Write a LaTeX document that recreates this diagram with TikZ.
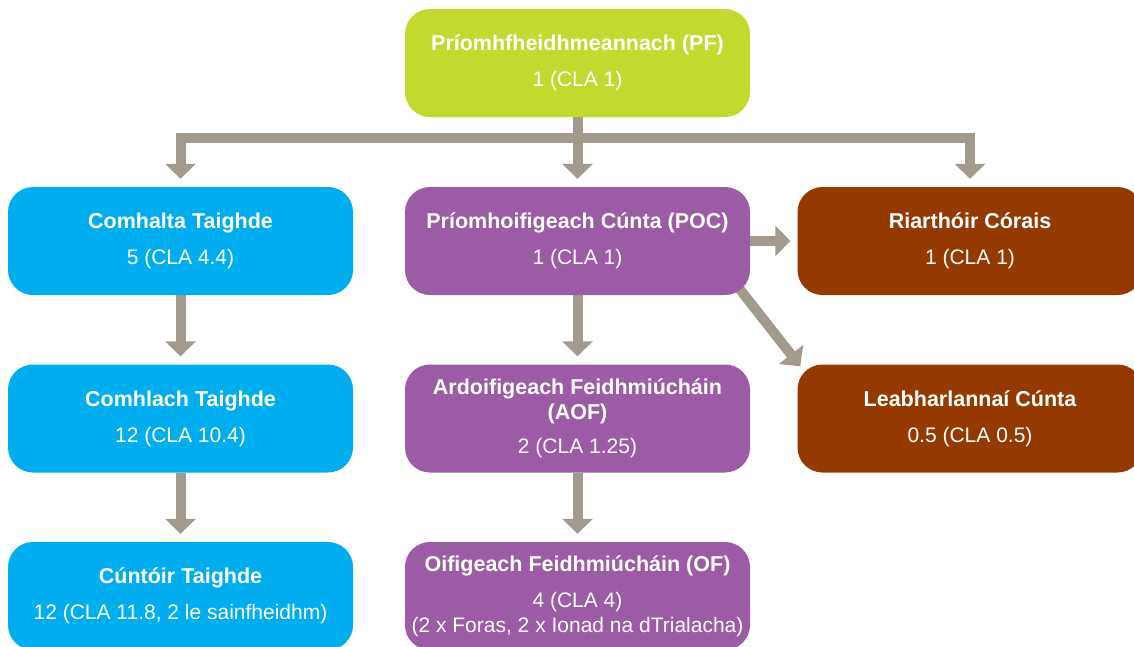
\documentclass[tikz,border=0pt]{standalone}
\usepackage{fontspec}
\setmainfont{Liberation Sans}
\usetikzlibrary{arrows.meta,backgrounds,calc}
\definecolor{pfgreen}{HTML}{C3D92F}
\definecolor{rblue}{HTML}{00AEEF}
\definecolor{mpurple}{HTML}{9B5BA5}
\definecolor{rbrown}{HTML}{943A00}
\definecolor{agrey}{HTML}{A39A8E}
\newcommand{\ttlb}[1]{{\fontsize{21.5}{25}\selectfont\bfseries #1}}
\begin{document}
\begin{tikzpicture}[x=1pt,y=-1pt,
  box/.style={rounded corners=25pt, minimum width=345pt, minimum height=108pt,
    inner sep=0pt, align=center, text=white, font=\fontsize{21}{25}\selectfont},
  conn/.style={draw=agrey, line width=10pt, line join=miter,
    -{Triangle[width=30pt,length=15pt]}},
]
\useasboundingbox (0,0) rectangle (1134,646);
\node[box, fill=pfgreen] (pf) at (577.5,63) {\ttlb{Príomhfheidhmeannach (PF)}\\[11pt]1 (CLA 1)};
\node[box, fill=rblue] (ct) at (180.5,241) {\ttlb{Comhalta Taighde}\\[11pt]5 (CLA 4.4)};
\node[box, fill=rblue] (cl) at (180.5,418.5) {\ttlb{Comhlach Taighde}\\[11pt]12 (CLA 10.4)};
\node[box, fill=rblue] (cta) at (180.5,596) {\ttlb{Cúntóir Taighde}\\[11pt]12 (CLA 11.8, 2 le sainfheidhm)};
\node[box, fill=mpurple] (poc) at (577.5,241) {\ttlb{Príomhoifigeach Cúnta (POC)}\\[11pt]1 (CLA 1)};
\node[box, fill=mpurple] (aof) at (577.5,418.5) {\ttlb{Ardoifigeach Feidhmiúcháin}\\[0pt]\ttlb{(AOF)}\\[9pt]2 (CLA 1.25)};
\node[box, fill=mpurple] (of) at (577.5,596) {\ttlb{Oifigeach Feidhmiúcháin (OF)}\\[11pt]4 (CLA 4)\\(2 x Foras, 2 x Ionad na dTrialacha)};
\node[box, fill=rbrown] (rc) at (970,241) {\ttlb{Riarthóir Córais}\\[11pt]1 (CLA 1)};
\node[box, fill=rbrown] (lc) at (970,418.5) {\ttlb{Leabharlannaí Cúnta}\\[11pt]0.5 (CLA 0.5)};
\begin{scope}[on background layer]
  \coordinate (bar) at (577.5,138);
  \coordinate (dstart) at ($(poc.south east)+(-12,-8)$);
  \coordinate (dend) at ($(lc.north west)+(3,2)$);
  \draw[conn, shorten >=8pt] (bar) -| (ct.north);
  \draw[conn, shorten >=8pt] (bar) -| (rc.north);
  \draw[conn, shorten >=8pt] (pf.south) -- (poc.north);
  \draw[conn, shorten >=8pt] (ct.south) -- (cl.north);
  \draw[conn, shorten >=8pt] (cl.south) -- (cta.north);
  \draw[conn, shorten >=8pt] (poc.south) -- (aof.north);
  \draw[conn, shorten >=8pt] (aof.south) -- (of.north);
  \draw[conn, shorten >=7pt] (poc.east) -- (rc.west);
  \draw[conn] (dstart) -- (dend);
\end{scope}
\end{tikzpicture}
\end{document}
